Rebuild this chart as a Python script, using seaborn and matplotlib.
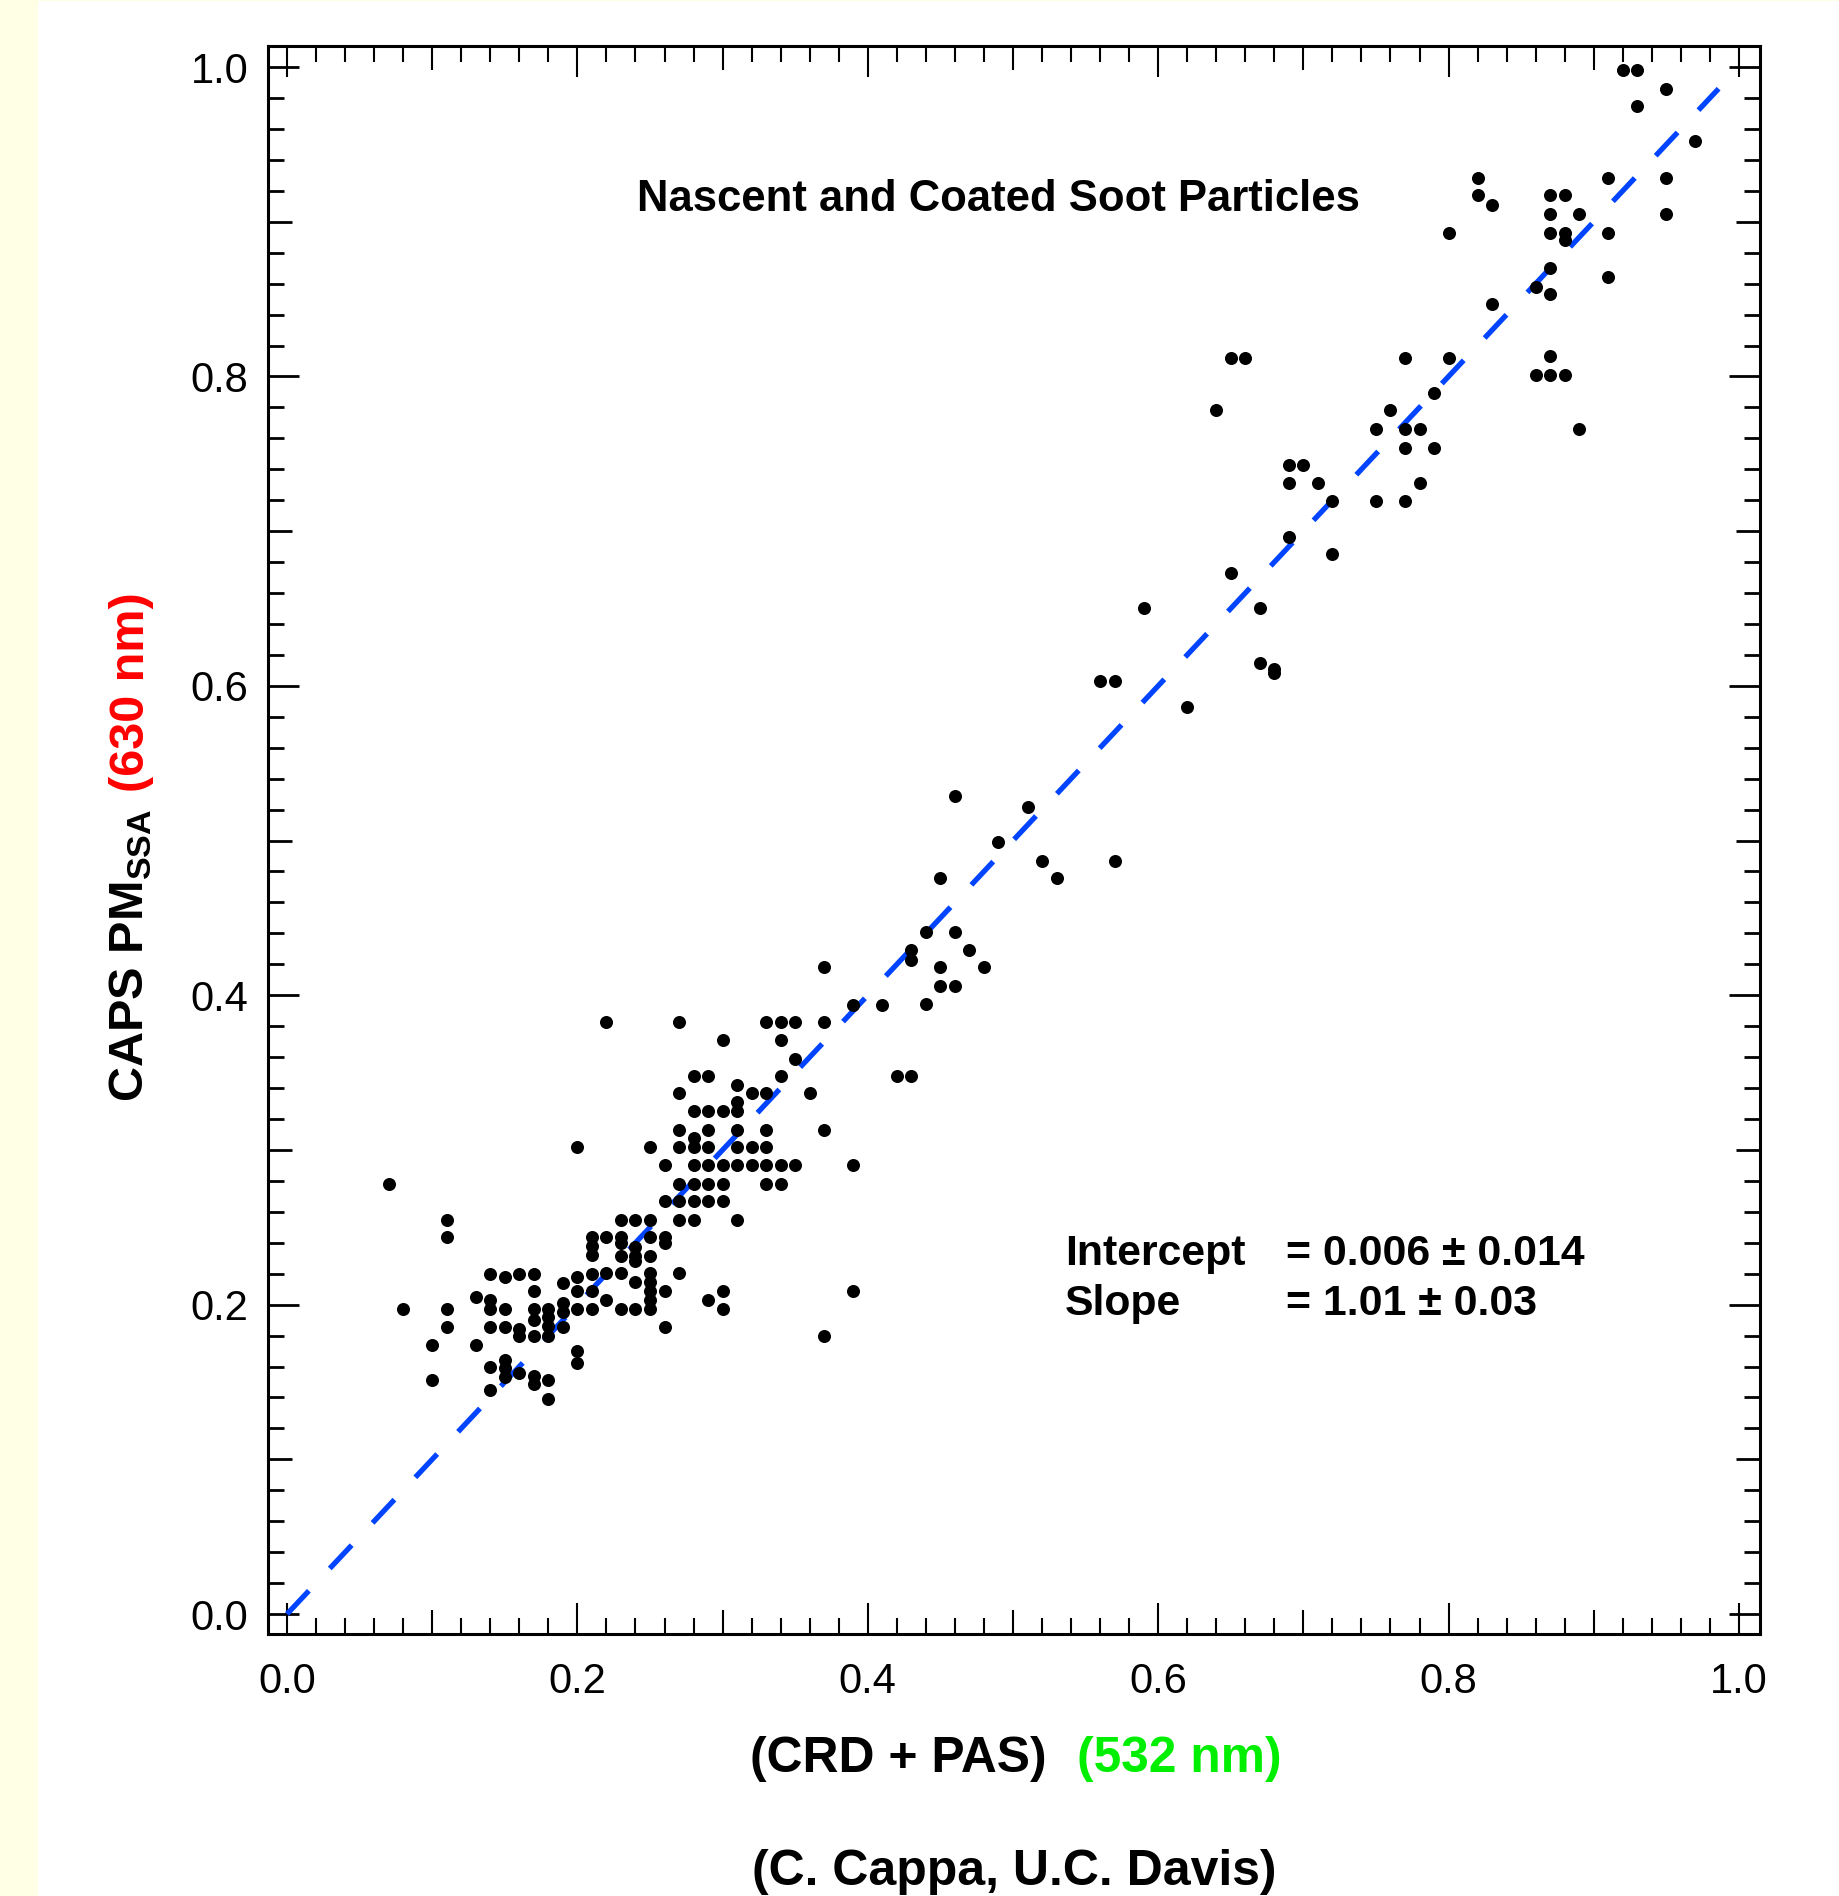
import matplotlib
matplotlib.use("Agg")
import matplotlib.pyplot as plt
import seaborn as sns
import pandas as pd
import numpy as np
from matplotlib.patches import Rectangle
from matplotlib.ticker import FixedLocator, MultipleLocator, FuncFormatter

# lower cluster, x <= 0.21
x_low = [0.20, 0.07, 0.11, 0.11, 0.21, 0.21, 0.21, 0.14, 0.15, 0.16, 0.17, 0.20, 0.21,
         0.19, 0.17, 0.20, 0.21, 0.13, 0.14, 0.08, 0.11, 0.14, 0.15, 0.17, 0.18, 0.19,
         0.19, 0.20, 0.21, 0.17, 0.18, 0.18, 0.18, 0.11, 0.14, 0.15, 0.16, 0.16, 0.19,
         0.17, 0.10, 0.13, 0.20, 0.20, 0.14, 0.15, 0.15, 0.15, 0.16, 0.10, 0.17, 0.17,
         0.18, 0.14, 0.18]
y_low = [0.302, 0.278, 0.255, 0.2435, 0.2435, 0.238, 0.232, 0.220, 0.218, 0.220, 0.220, 0.218, 0.220,
         0.214, 0.209, 0.209, 0.209, 0.205, 0.203, 0.197, 0.197, 0.197, 0.197, 0.197, 0.197, 0.201,
         0.195, 0.197, 0.197, 0.190, 0.192, 0.186, 0.180, 0.1855, 0.1855, 0.1855, 0.184, 0.180, 0.1855,
         0.180, 0.174, 0.174, 0.170, 0.162, 0.160, 0.164, 0.159, 0.153, 0.156, 0.151, 0.154, 0.149,
         0.151, 0.145, 0.139]

# middle cluster, 0.22 <= x <= 0.43
x_mid = [0.39, 0.41, 0.22, 0.27, 0.33, 0.34, 0.35, 0.37, 0.30, 0.34, 0.35, 0.28, 0.29, 0.34, 0.42,
         0.43, 0.31, 0.27, 0.32, 0.33, 0.36, 0.31, 0.28, 0.29, 0.30, 0.31, 0.27, 0.29, 0.31, 0.33,
         0.37, 0.28, 0.25, 0.27, 0.28, 0.29, 0.31, 0.32, 0.33, 0.26, 0.28, 0.29, 0.30, 0.31, 0.32,
         0.33, 0.34, 0.35, 0.39, 0.27, 0.28, 0.29, 0.30, 0.33, 0.34, 0.26, 0.27, 0.28, 0.29, 0.30,
         0.23, 0.24, 0.25, 0.27, 0.28, 0.31, 0.22, 0.23, 0.25, 0.26, 0.23, 0.26, 0.24, 0.23, 0.24,
         0.25, 0.24, 0.22, 0.23, 0.25, 0.27, 0.24, 0.25, 0.25, 0.26, 0.30, 0.39, 0.22, 0.25, 0.29,
         0.23, 0.24, 0.25, 0.30, 0.26, 0.37]
y_mid = [0.394, 0.394, 0.3825, 0.3825, 0.3825, 0.3825, 0.3825, 0.3825, 0.371, 0.371, 0.359, 0.348, 0.348, 0.348, 0.348,
         0.348, 0.342, 0.337, 0.337, 0.337, 0.337, 0.331, 0.325, 0.325, 0.325, 0.325, 0.313, 0.313, 0.313, 0.313,
         0.313, 0.308, 0.302, 0.302, 0.302, 0.302, 0.302, 0.302, 0.302, 0.290, 0.290, 0.290, 0.290, 0.290, 0.290,
         0.290, 0.290, 0.290, 0.290, 0.278, 0.278, 0.278, 0.278, 0.278, 0.278, 0.267, 0.267, 0.267, 0.267, 0.267,
         0.255, 0.255, 0.255, 0.255, 0.255, 0.255, 0.2435, 0.2435, 0.2435, 0.2435, 0.2396, 0.2396, 0.237, 0.2316, 0.2316,
         0.2316, 0.228, 0.2203, 0.2203, 0.2203, 0.2203, 0.2145, 0.2145, 0.2088, 0.2088, 0.2088, 0.2088, 0.203, 0.203, 0.203,
         0.197, 0.197, 0.197, 0.197, 0.1853, 0.1796]

# upper points, x >= 0.37
x_high = [0.59, 0.56, 0.57, 0.62, 0.46, 0.51, 0.49, 0.52, 0.57, 0.53, 0.45, 0.44, 0.46, 0.43, 0.43,
          0.47, 0.37, 0.45, 0.48, 0.45, 0.46, 0.44,
          0.65, 0.66, 0.77, 0.80, 0.64, 0.79, 0.76, 0.75, 0.77, 0.78, 0.77, 0.79, 0.69, 0.70, 0.69,
          0.71, 0.78, 0.72, 0.75, 0.77, 0.69, 0.72, 0.65, 0.67, 0.67, 0.68, 0.68,
          0.92, 0.93, 0.95, 0.93, 0.97, 0.82, 0.91, 0.95, 0.82, 0.83, 0.87, 0.88, 0.87, 0.89, 0.95,
          0.80, 0.87, 0.88, 0.88, 0.91, 0.87, 0.86, 0.87, 0.91, 0.83, 0.87, 0.86, 0.87, 0.88, 0.89]
y_high = [0.650, 0.603, 0.603, 0.586, 0.529, 0.522, 0.499, 0.487, 0.487, 0.476, 0.476, 0.441, 0.441, 0.429, 0.423,
          0.429, 0.418, 0.418, 0.418, 0.406, 0.406, 0.3945,
          0.812, 0.812, 0.812, 0.812, 0.778, 0.789, 0.778, 0.766, 0.766, 0.766, 0.754, 0.754, 0.7425, 0.7425, 0.731,
          0.731, 0.731, 0.7195, 0.7195, 0.7195, 0.696, 0.685, 0.673, 0.650, 0.615, 0.611, 0.608,
          0.998, 0.998, 0.986, 0.975, 0.952, 0.928, 0.928, 0.928, 0.917, 0.911, 0.917, 0.917, 0.905, 0.905, 0.905,
          0.893, 0.893, 0.893, 0.888, 0.893, 0.870, 0.858, 0.853, 0.864, 0.847, 0.813, 0.801, 0.801, 0.801, 0.766]

# 1:1 reference line
line_x = [0.0, 0.986]
line_y = [0.0, 0.986]

intercept, intercept_err = "0.006", "0.014"
slope, slope_err = "1.01", "0.03"

title = "Nascent and Coated Soot Particles"
credit = "(C. Cappa, U.C. Davis)"

df = pd.DataFrame({"x": x_low + x_mid + x_high, "y": y_low + y_mid + y_high})

sns.set_theme(style="white")
plt.rcParams["font.family"] = ["Liberation Sans", "DejaVu Sans"]
plt.rcParams["mathtext.fontset"] = "custom"
plt.rcParams["mathtext.rm"] = "Liberation Sans"
plt.rcParams["mathtext.bf"] = "Liberation Sans:bold"

W, H = 1840, 1896
fig = plt.figure(figsize=(W / 100, H / 100), dpi=100, facecolor="#FFFFE6")
fig.add_artist(Rectangle((38 / W, 0), 1, 1 - 1 / H, transform=fig.transFigure,
                         facecolor="white", edgecolor="none", zorder=-10))

ax = fig.add_axes([268 / W, 1 - 1634 / H, (1760 - 268) / W, (1634 - 46) / H])
ax.set_facecolor("white")

lw = 3.8
ax.plot(line_x, line_y, color="#0044FF", lw=lw, dashes=(23 / lw, 22 / lw), zorder=2)
sns.scatterplot(data=df, x="x", y="y", ax=ax, color="black", s=88, linewidth=0, zorder=3)

ax.set_xlim(-0.0131, 1.0145)
ax.set_ylim(-0.0129, 1.0136)
ax.set_xlabel("")
ax.set_ylabel("")

major = np.round(np.arange(0, 1.01, 0.1), 2)
fmt = FuncFormatter(lambda v, p: f"{v:.1f}" if round(v * 10) % 2 == 0 else "")
for axis in (ax.xaxis, ax.yaxis):
    axis.set_major_locator(FixedLocator(major))
    axis.set_major_formatter(fmt)
    axis.set_minor_locator(MultipleLocator(0.02))

ax.tick_params(which="both", direction="in", top=True, right=True, bottom=True, left=True,
               colors="black", labelcolor="black")
ax.tick_params(axis="x", which="major", length=22.3, width=1.5, pad=20, labelsize=30)
ax.tick_params(axis="x", which="minor", length=11.5, width=1.5)
ax.tick_params(axis="y", which="major", length=22.3, width=2, pad=14, labelsize=30)
ax.tick_params(axis="y", which="minor", length=11.5, width=2)

# medium ticks at the odd tenths
for axis in (ax.xaxis, ax.yaxis):
    for t, v in zip(axis.get_major_ticks(), major):
        if round(v * 10) % 2 == 1:
            t.tick1line.set_markersize(17.3)
            t.tick2line.set_markersize(17.3)

for s in ax.spines.values():
    s.set_linewidth(2.2)
    s.set_color("black")

ax.text(0.4897, 0.907, title, ha="center", va="baseline", fontsize=31.4, fontweight="bold", color="black")
ax.text(0.5358, 0.2256, "Intercept", va="baseline", fontsize=30.8, fontweight="bold", color="black")
ax.text(0.688, 0.2256, f"= {intercept} \u00b1 {intercept_err}", va="baseline", fontsize=30.8,
        fontweight="bold", color="black")
ax.text(0.5358, 0.1935, "Slope", va="baseline", fontsize=30.8, fontweight="bold", color="black")
ax.text(0.688, 0.1935, f"= {slope} \u00b1 {slope_err}", va="baseline", fontsize=30.8,
        fontweight="bold", color="black")

renderer = fig.canvas.get_renderer()

# x label in two colours
xl = fig.text(750 / W, 1 - 1772 / H, "(CRD + PAS)", ha="left", va="baseline",
              fontsize=35.8, fontweight="bold", color="black")
bb = xl.get_window_extent(renderer)
fig.text((bb.x1 + 30) / W, 1 - 1772 / H, "(532 nm)", ha="left", va="baseline",
         fontsize=35.8, fontweight="bold", color="#00EE00")

# y label in two colours
yl = fig.text(144 / W, 1 - 1102 / H, r"CAPS PM$_\mathbf{SSA}$", rotation=90, rotation_mode="anchor",
              ha="left", va="baseline", fontsize=35, fontweight="bold", color="black")
bb = yl.get_window_extent(renderer)
fig.text(144 / W, (bb.y1 + 17) / H, "(630 nm)", rotation=90, rotation_mode="anchor",
         ha="left", va="baseline", fontsize=35, fontweight="bold", color="red")

fig.text(1014 / W, 1 - 1885 / H, credit, ha="center", va="baseline",
         fontsize=36, fontweight="bold", color="black")

fig.savefig("out.png", dpi=100, facecolor=fig.get_facecolor())
